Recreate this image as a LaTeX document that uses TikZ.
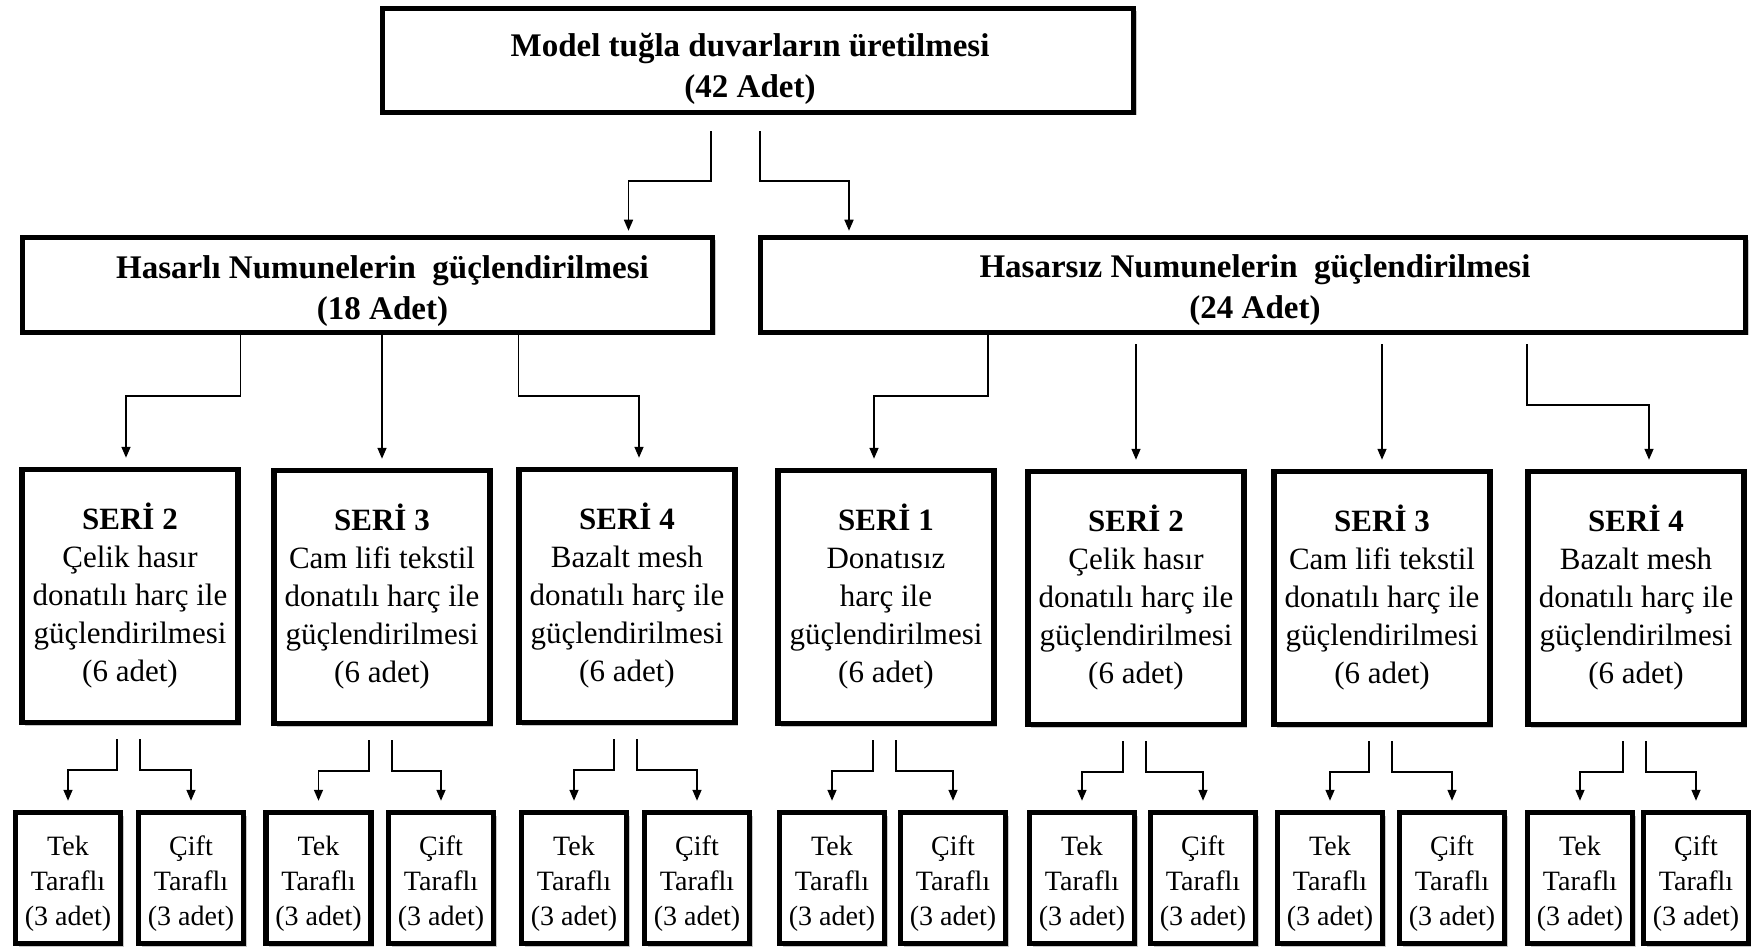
\documentclass[tikz,border=0pt]{standalone}
\usepackage{fontspec}
\setmainfont{Liberation Serif}
\usetikzlibrary{arrows.meta,shadows,calc}
\newcommand{\lift}[1]{\rule{0pt}{#1}}
\begin{document}
\begin{tikzpicture}[x=1pt,y=-1pt,
  box/.style={draw=black, line width=5.5pt, fill=white, align=center, inner sep=2pt,
    drop shadow={shadow xshift=3pt,shadow yshift=-3pt,opacity=0.3,fill=black!70}},
  head/.style={box, font=\fontsize{33}{41}\selectfont\bfseries},
  seri/.style={box, minimum width=216pt, minimum height=253pt, font=\fontsize{31}{38}\selectfont},
  leaf/.style={box, minimum width=105pt, minimum height=131pt, font=\fontsize{28}{35}\selectfont},
  arr/.style={line width=1.6pt, -{Triangle[width=9pt,length=11pt]}}]
\useasboundingbox (0,0) rectangle (1751,949);
\fill[white] (0,0) rectangle (1751,949);

% top level
\node[head, minimum width=751pt, minimum height=104pt] (top) at (758,60.5) {\lift{41pt}Model tuğla duvarların üretilmesi\kern16pt\\(42 Adet)\kern16pt};
\node[head, minimum width=690pt, minimum height=95pt] (h) at (367.5,285) {\lift{35pt}\kern30pt Hasarlı Numunelerin\ \ güçlendirilmesi\\\kern30pt(18 Adet)};
\node[head, minimum width=985pt, minimum height=95pt] (n) at (1253,285) {\lift{33pt}\kern4pt Hasarsız Numunelerin\ \ güçlendirilmesi\\\kern4pt(24 Adet)};

% series
\node[seri] (hs2) at (130,596) {\textbf{SERİ 2}\\Çelik hasır\\donatılı\ harç ile\\güçlendirilmesi\\(6 adet)};
\node[seri] (hs3) at (382,597) {\textbf{SERİ 3}\\Cam lifi\ tekstil\\donatılı\ harç ile\\güçlendirilmesi\\(6 adet)};
\node[seri] (hs4) at (627,596) {\textbf{SERİ 4}\\Bazalt mesh\\donatılı\ harç ile\\güçlendirilmesi\\(6 adet)};
\node[seri] (ns1) at (886,597) {\textbf{SERİ 1}\\Donatısız\\harç ile\\güçlendirilmesi\\(6 adet)};
\node[seri] (ns2) at (1136,598) {\textbf{SERİ 2}\\Çelik hasır\\donatılı\ harç ile\\güçlendirilmesi\\(6 adet)};
\node[seri] (ns3) at (1382,598) {\textbf{SERİ 3}\\Cam lifi\ tekstil\\donatılı\ harç ile\\güçlendirilmesi\\(6 adet)};
\node[seri] (ns4) at (1636,598) {\textbf{SERİ 4}\\Bazalt mesh\\donatılı\ harç ile\\güçlendirilmesi\\(6 adet)};

% leaves
\foreach \s/\xt/\xc in {hs2/68/191, hs3/318.5/441, hs4/574/697, ns1/832/953, ns2/1082/1203, ns3/1330/1452, ns4/1580/1696}{
  \node[leaf] (\s-t) at (\xt,878) {\lift{31pt}Tek\\Taraflı\\(3 adet)};
  \node[leaf] (\s-c) at (\xc,878) {\lift{31pt}Çift\\Taraflı\\(3 adet)};
  \draw[arr, shorten >=9pt] ([xshift=-13pt,yshift=-14pt]\s.south) -- ++(0pt,-31pt) -| (\s-t.north);
  \draw[arr, shorten >=9pt] ([xshift=10pt,yshift=-14pt]\s.south) -- ++(0pt,-31pt) -| (\s-c.north);
}

% top arrows
\draw[arr, shorten >=4pt] ([xshift=-47pt,yshift=-16pt]top.south) -- ++(0pt,-50pt) -| ([xshift=261pt]h.north);
\draw[arr, shorten >=4pt] ([xshift=2pt,yshift=-16pt]top.south) -- ++(0pt,-50pt) -| ([xshift=-404pt]n.north);

% hasarli arrows
\draw[arr, shorten >=9pt] ([xshift=-127pt]h.south) -- ++(0pt,-61pt) -| ([xshift=-4pt]hs2.north);
\draw[arr, shorten >=9pt] (h.south -| hs3.north) -- (hs3.north);
\draw[arr, shorten >=9pt] ([xshift=151pt]h.south) -- ++(0pt,-61pt) -| ([xshift=12pt]hs4.north);

% hasarsiz arrows
\draw[arr, shorten >=9pt] ([xshift=-265pt]n.south) -- ++(0pt,-61pt) -| ([xshift=-12pt]ns1.north);
\draw[arr, shorten >=9pt] ($(n.south -| ns2.north)+(0,9)$) -- (ns2.north);
\draw[arr, shorten >=9pt] ($(n.south -| ns3.north)+(0,9)$) -- (ns3.north);
\draw[arr, shorten >=9pt] ([xshift=274pt,yshift=-9pt]n.south) -- ++(0pt,-61pt) -| ([xshift=13pt]ns4.north);
\end{tikzpicture}
\end{document}
